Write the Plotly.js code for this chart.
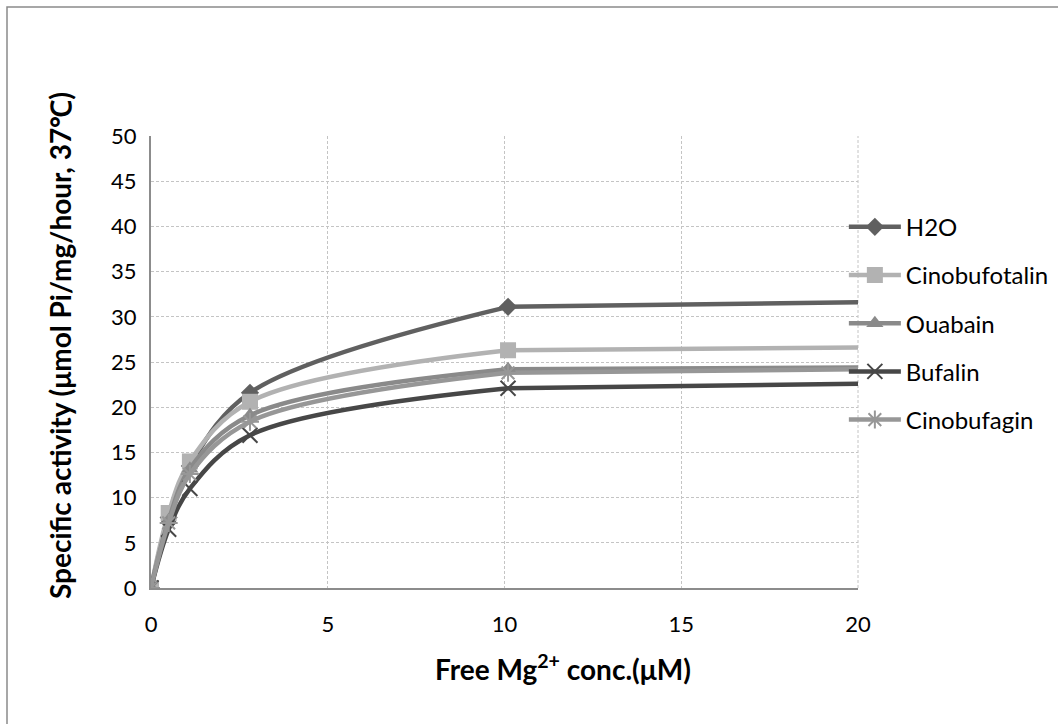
<!DOCTYPE html>
<html>
<head>
<meta charset="utf-8">
<script src="https://cdn.plot.ly/plotly-3.0.1.min.js"></script>
<style>
html,body{margin:0;padding:0;background:#fff;}
#chart{width:1058px;height:724px;}
</style>
</head>
<body>
<div id="chart"></div>
<script>
// Free Mg2+ concentration (µM); the curves run on to the right edge of the axis (no marker there)
const xConc = [0, 0.5, 1.1, 2.8, 10.1, 20];
const seriesNames = ["H2O", "Cinobufotalin", "Ouabain", "Bufalin", "Cinobufagin"];
const h2o           = [0, 7.8, 13.5, 21.6, 31.1, 31.6];
const cinobufotalin = [0, 8.3, 14.0, 20.6, 26.3, 26.6];
const ouabain       = [0, 7.5, 13.2, 19.1, 24.2, 24.4];
const bufalin       = [0, 6.5, 11.0, 16.9, 22.1, 22.6];
const cinobufagin   = [0, 7.2, 12.6, 18.4, 23.8, 24.2];
const xTicks = [0, 5, 10, 15, 20];
const yTicks = [0, 5, 10, 15, 20, 25, 30, 35, 40, 45, 50];
const xTitle = "<b>Free Mg<sup>2+</sup> conc.(μM)</b>";
const yTitle = "<b>Specific activity (μmol Pi/mg/hour, 37℃)</b>";

const values = [h2o, cinobufotalin, ouabain, bufalin, cinobufagin];
const colors = ["#606060", "#b2b2b2", "#8a8a8a", "#474747", "#979797"];
const symbols = ["diamond", "square", "triangle-up", "x-thin-open", "asterisk-open"];
const sizes = [14, 16, 15, 15, 15];
const nMarked = 5; // points carrying markers

const traces = [];
values.forEach((v, i) => {
  // marked, smoothed part of the curve
  traces.push({
    x: xConc.slice(0, nMarked), y: v.slice(0, nMarked), name: seriesNames[i],
    type: "scatter", mode: "lines+markers",
    legendgroup: "g" + i,
    line: {color: colors[i], width: 4.5, shape: "spline", smoothing: 1.0},
    marker: {symbol: symbols[i], size: sizes[i], color: colors[i],
             line: {color: colors[i], width: (symbols[i].indexOf("open") >= 0) ? 2 : 0}}
  });
  // tail of the curve to the axis edge
  traces.push({
    x: xConc.slice(nMarked - 1), y: v.slice(nMarked - 1), name: seriesNames[i],
    type: "scatter", mode: "lines", showlegend: false,
    legendgroup: "g" + i,
    line: {color: colors[i], width: 4.5}
  });
});
// draw tails first so markers stay on top
traces.sort((a, b) => (a.mode === "lines" ? 0 : 1) - (b.mode === "lines" ? 0 : 1));

const layout = {
  width: 1058, height: 724,
  paper_bgcolor: "#ffffff", plot_bgcolor: "#ffffff",
  margin: {l: 151, r: 200, t: 136, b: 136, autoexpand: false},
  font: {family: "Lato, 'Open Sans', sans-serif", color: "#000", size: 22},
  showlegend: true,
  legend: {
    x: 0.980, y: 0.848, xanchor: "left", yanchor: "top",
    traceorder: "grouped", tracegroupgap: 14,
    itemwidth: 52, itemsizing: "trace",
    font: {size: 24, color: "#000"},
    bgcolor: "rgba(0,0,0,0)"
  },
  xaxis: {
    range: [0, 20], tickvals: xTicks, ticktext: xTicks.map(String),
    showgrid: true, gridcolor: "#c4c4c4", griddash: "3px,2px", gridwidth: 1,
    showline: true, linecolor: "#8c8c8c", linewidth: 2,
    zeroline: false, ticks: "", ticklen: 0, ticklabelstandoff: 16,
    tickfont: {size: 22}
  },
  yaxis: {
    range: [0, 50], tickvals: yTicks, ticktext: yTicks.map(String),
    showgrid: true, gridcolor: "#c4c4c4", griddash: "3px,2px", gridwidth: 1,
    showline: true, linecolor: "#8c8c8c", linewidth: 2,
    zeroline: false, ticks: "", ticklen: 0, ticklabelstandoff: 8,
    tickfont: {size: 22}
  },
  annotations: [
    {text: xTitle, xref: "paper", yref: "paper", x: (563 - 151) / 707, y: (588 - 667) / 452,
     xanchor: "center", yanchor: "middle", showarrow: false, font: {size: 28, color: "#000"}},
    {text: yTitle, xref: "paper", yref: "paper", x: (60 - 151) / 707, y: (588 - 346) / 452,
     xanchor: "center", yanchor: "middle", textangle: -90, showarrow: false,
     font: {size: 28, color: "#000"}}
  ],
  shapes: [
    {type: "line", xref: "paper", yref: "paper", x0: 1, x1: 1, y0: 0, y1: 1,
     line: {color: "#c4c4c4", width: 1, dash: "3px,2px"}, layer: "below"},
    {type: "rect", xref: "paper", yref: "paper",
     x0: (7 - 151) / 707, x1: 1.6, y0: -0.6, y1: (588 - 7) / 452,
     line: {color: "#8a8a8a", width: 1.5}, fillcolor: "rgba(0,0,0,0)"}
  ]
};

Plotly.newPlot("chart", traces, layout, {displayModeBar: false, staticPlot: true});
</script>
</body>
</html>
